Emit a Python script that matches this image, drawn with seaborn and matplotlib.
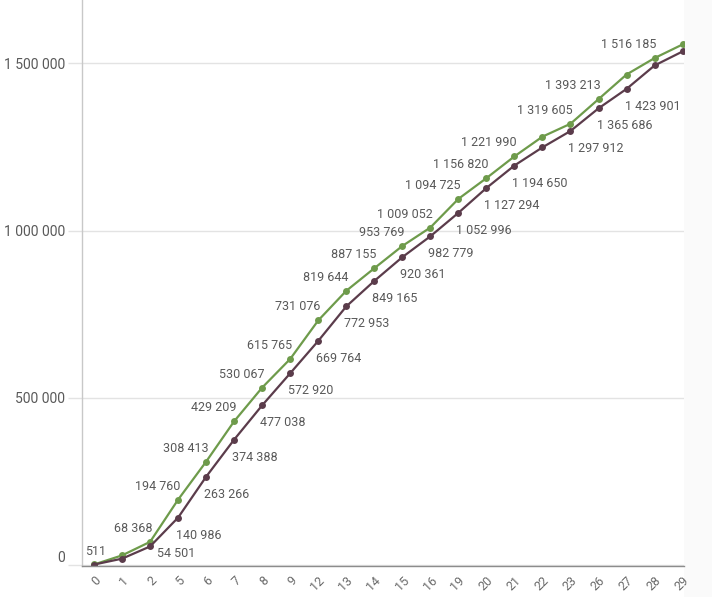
import pandas as pd
import matplotlib
matplotlib.use("Agg")
import matplotlib.pyplot as plt
import seaborn as sns
from matplotlib.patches import Rectangle

# data
x_labels = ["0", "1", "2", "5", "6", "7", "8", "9", "12", "13", "14", "15", "16",
            "19", "20", "21", "22", "23", "26", "27", "28", "29"]
green_vals = [511, 27800, 68368, 194760, 308413, 429209, 530067, 615765, 731076,
              819644, 887155, 953769, 1009052, 1094725, 1156820, 1221990, 1281000,
              1319605, 1393213, 1467000, 1516185, 1557000]
purple_vals = [300, 18000, 54501, 140986, 263266, 374388, 477038, 572920, 669764,
               772953, 849165, 920361, 982779, 1052996, 1127294, 1194650, 1249000,
               1297912, 1365686, 1423901, 1494000, 1536000]
# which points carry a value label
green_shown = [1, 0, 1, 1, 1, 1, 1, 1, 1, 1, 1, 1, 1, 1, 1, 1, 0, 1, 1, 0, 1, 0]
purple_shown = [0, 0, 1, 1, 1, 1, 1, 1, 1, 1, 1, 1, 1, 1, 1, 1, 0, 1, 1, 1, 0, 0]
y_ticks = [0, 500000, 1000000, 1500000]

GREEN = "#6e9b4b"
PURPLE = "#5b3c4b"
TEXT = "#595959"
FONT = "Roboto"


def fmt(v):
    return f"{v:,}".replace(",", " ")


df = pd.DataFrame({
    "x": x_labels * 2,
    "value": green_vals + purple_vals,
    "series": ["green"] * len(x_labels) + ["purple"] * len(x_labels),
})

sns.set_style("white")
plt.rcParams["font.family"] = [FONT, "DejaVu Sans"]

fig = plt.figure(figsize=(7.12, 5.97), dpi=100)
fig.patches.append(Rectangle((684 / 712, 0), 28 / 712, 1, transform=fig.transFigure,
                             facecolor="#fafafa", edgecolor="none", zorder=-1))
ax = fig.add_axes([82 / 712, 31 / 597, (684 - 82) / 712, 566 / 597])

sns.lineplot(data=df, x="x", y="value", hue="series", sort=False,
             palette={"green": GREEN, "purple": PURPLE}, marker="o",
             markersize=5, markeredgewidth=0, linewidth=1.6, legend=False, ax=ax)

# value labels: green above-left, purple below-right
for i, (v, s) in enumerate(zip(green_vals, green_shown)):
    if not s:
        continue
    if i == 0:
        ax.annotate(fmt(v), (i, v), xytext=(-9, 6), textcoords="offset pixels",
                    ha="left", va="bottom", fontsize=9, color=TEXT)
    else:
        ax.annotate(fmt(v), (i, v), xytext=(2, 7), textcoords="offset pixels",
                    ha="right", va="bottom", fontsize=9, color=TEXT)
for i, (v, s) in enumerate(zip(purple_vals, purple_shown)):
    if not s:
        continue
    # the lowest label sits beside its point, not under it
    off = (7, -1) if i == 2 else (-2, -11)
    ax.annotate(fmt(v), (i, v), xytext=off, textcoords="offset pixels",
                ha="left", va="top", fontsize=9, color=TEXT)

ax.set_xlim(-0.43, 21.05)
ax.set_ylim(-4000, 1690000)
ax.set_yticks(y_ticks)
ax.set_yticklabels([fmt(t) for t in y_ticks], fontsize=10, color=TEXT)
ax.yaxis.grid(True, color="#e3e3e3", linewidth=1)
ax.set_axisbelow(True)
ax.tick_params(axis="y", length=10, width=1, color="#e3e3e3", pad=2, left=True)
ylabels = ax.get_yticklabels()
ylabels[0].set_va("bottom")

ax.set_xticks(range(len(x_labels)))
ax.set_xticklabels(x_labels, rotation=45, ha="right", va="top",
                   rotation_mode="anchor", fontsize=9, color="#6a6a6a")
ax.tick_params(axis="x", length=0, pad=6)

ax.set_xlabel("")
ax.set_ylabel("")
for side in ["top", "right"]:
    ax.spines[side].set_visible(False)
ax.spines["left"].set_color("#c8c8c8")
ax.spines["bottom"].set_color("#8c8c8c")
ax.spines["left"].set_linewidth(1)
ax.spines["bottom"].set_linewidth(1)

fig.savefig("out.png", dpi=100)
